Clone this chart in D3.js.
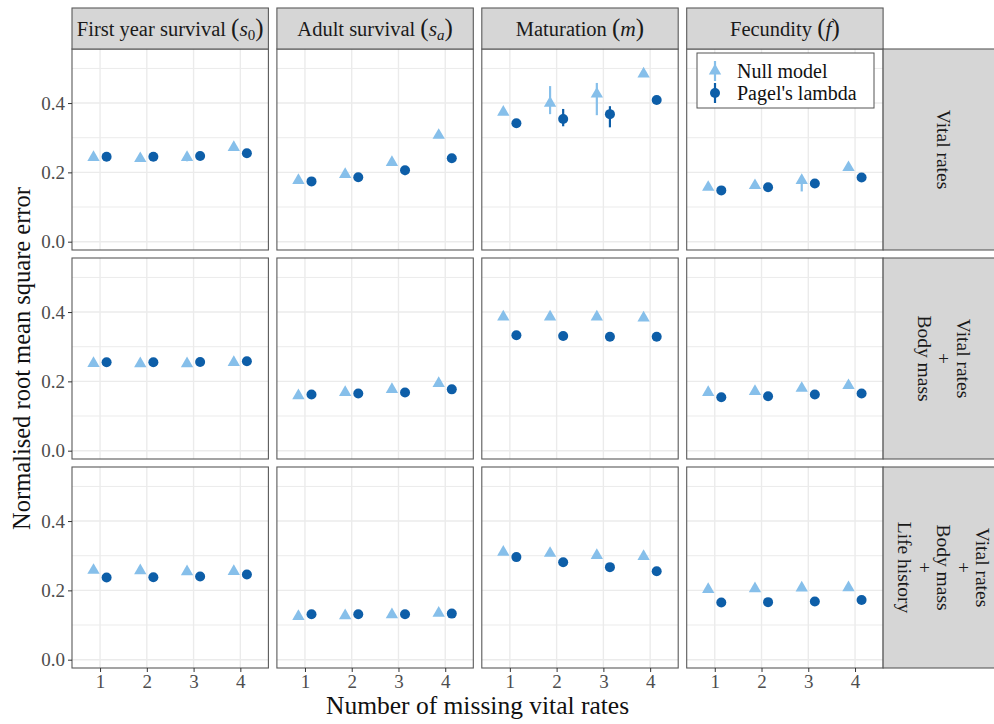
<!DOCTYPE html>
<html>
<head>
<meta charset="utf-8">
<script src="https://cdn.jsdelivr.net/npm/d3@7"></script>
<style>
  html, body { margin: 0; padding: 0; background: #fff; }
  svg { display: block; }
  text { font-family: "Liberation Serif", "DejaVu Serif", serif; }
</style>
</head>
<body>
<svg id="chart" width="994" height="724"></svg>
<script>
// ---------------- data ----------------
const colFacets = ["First year survival", "Adult survival", "Maturation", "Fecundity"];
const colSymbols = [["s", "0"], ["s", "a"], ["m", null], ["f", null]];
const rowFacets = [
  ["Vital rates"],
  ["Vital rates", "+", "Body mass"],
  ["Vital rates", "+", "Body mass", "+", "Life history"]
];
const xValues = [1, 2, 3, 4];
const yTicks = [0.0, 0.2, 0.4];
const yMinor = [0.1, 0.3, 0.5];
const seriesNames = ["Null model", "Pagel's lambda"];

// nullModel[row][col] = values at x = 1..4
const nullModel = [
  [[0.243, 0.240, 0.243, 0.272], [0.177, 0.194, 0.229, 0.307], [0.374, 0.400, 0.426, 0.484], [0.157, 0.162, 0.177, 0.214]],
  [[0.252, 0.251, 0.251, 0.255], [0.159, 0.168, 0.177, 0.194], [0.386, 0.386, 0.386, 0.383], [0.168, 0.171, 0.180, 0.188]],
  [[0.258, 0.257, 0.254, 0.255], [0.125, 0.127, 0.130, 0.134], [0.310, 0.307, 0.301, 0.298], [0.203, 0.205, 0.207, 0.208]]
];
const pagelLambda = [
  [[0.245, 0.245, 0.247, 0.255], [0.174, 0.186, 0.206, 0.241], [0.342, 0.354, 0.368, 0.409], [0.148, 0.157, 0.168, 0.185]],
  [[0.255, 0.255, 0.256, 0.258], [0.162, 0.165, 0.168, 0.177], [0.333, 0.331, 0.329, 0.329], [0.154, 0.157, 0.162, 0.165]],
  [[0.237, 0.238, 0.240, 0.246], [0.131, 0.131, 0.131, 0.133], [0.296, 0.281, 0.267, 0.255], [0.165, 0.166, 0.168, 0.172]]
];
// visible error bars: [series, row, col, x, lo, hi]
const errorBars = [
  [0, 0, 0, 3, 0.232, 0.250],
  [1, 0, 1, 3, 0.192, 0.215],
  [0, 0, 2, 2, 0.368, 0.449],
  [0, 0, 2, 3, 0.365, 0.458],
  [1, 0, 2, 2, 0.333, 0.383],
  [1, 0, 2, 3, 0.330, 0.391],
  [0, 0, 3, 3, 0.145, 0.190],
  [1, 0, 3, 3, 0.155, 0.180],
  [1, 2, 2, 2, 0.272, 0.290],
  [1, 2, 2, 3, 0.258, 0.276]
];

// ---------------- layout ----------------
const colors = ["#86bfea", "#0d5ea8"];
const dodge = [-0.14, 0.14];
const panelLeft = 72, panelW = 196.4, gapX = 8.5;
const panelTop = 49, panelH = 201, gapY = 8;
const stripTopY = 8;
const borderCol = "#5a5a5a";
const gridCol = "#ebebeb";

const svg = d3.select("#chart");

const x = d3.scaleLinear().domain([0.4, 4.6]).range([0, panelW]);
const y = d3.scaleLinear().domain([-0.024, 0.556]).range([panelH, 0]);

const triangle = d3.symbol().type(d3.symbolTriangle).size(66);

for (let r = 0; r < 3; r++) {
  for (let c = 0; c < 4; c++) {
    const px = panelLeft + c * (panelW + gapX);
    const py = panelTop + r * (panelH + gapY);
    const g = svg.append("g").attr("transform", `translate(${px},${py})`);

    g.append("rect").attr("width", panelW).attr("height", panelH).attr("fill", "#fff");

    // minor grid
    g.selectAll(".ymin").data(yMinor).join("line")
      .attr("x1", 0).attr("x2", panelW)
      .attr("y1", d => y(d)).attr("y2", d => y(d))
      .attr("stroke", gridCol).attr("stroke-width", 1);
    // major grid
    g.selectAll(".ymaj").data(yTicks).join("line")
      .attr("x1", 0).attr("x2", panelW)
      .attr("y1", d => y(d)).attr("y2", d => y(d))
      .attr("stroke", gridCol).attr("stroke-width", 1.4);
    g.selectAll(".xmaj").data(xValues).join("line")
      .attr("y1", 0).attr("y2", panelH)
      .attr("x1", d => x(d)).attr("x2", d => x(d))
      .attr("stroke", gridCol).attr("stroke-width", 1.4);

    // error bars
    errorBars.filter(e => e[1] === r && e[2] === c).forEach(e => {
      g.append("line")
        .attr("x1", x(e[3] + dodge[e[0]])).attr("x2", x(e[3] + dodge[e[0]]))
        .attr("y1", y(e[4])).attr("y2", y(e[5]))
        .attr("stroke", colors[e[0]]).attr("stroke-width", 2.2);
    });

    // null model triangles
    g.selectAll(".tri").data(nullModel[r][c]).join("path")
      .attr("d", triangle)
      .attr("transform", (d, i) => `translate(${x(xValues[i] + dodge[0])},${y(d)})`)
      .attr("fill", colors[0]);
    // pagel circles
    g.selectAll(".cir").data(pagelLambda[r][c]).join("circle")
      .attr("cx", (d, i) => x(xValues[i] + dodge[1]))
      .attr("cy", d => y(d))
      .attr("r", 5)
      .attr("fill", colors[1]);

    // border
    g.append("rect").attr("width", panelW).attr("height", panelH)
      .attr("fill", "none").attr("stroke", borderCol).attr("stroke-width", 1.1);

    // y axis on first column
    if (c === 0) {
      const ya = g.append("g").call(d3.axisLeft(y).tickValues(yTicks).tickFormat(d3.format(".1f")).tickSize(4).tickPadding(3));
      ya.attr("font-family", null);
      ya.select(".domain").remove();
      ya.selectAll("line").attr("stroke", "#333");
      ya.selectAll("text").attr("font-size", 19).attr("fill", "#4d4d4d")
        .attr("font-family", "Liberation Serif, serif");
    }
    // x axis on last row
    if (r === 2) {
      const xa = g.append("g").attr("transform", `translate(0,${panelH})`)
        .call(d3.axisBottom(x).tickValues(xValues).tickFormat(d3.format("d")).tickSize(4).tickPadding(3));
      xa.attr("font-family", null);
      xa.select(".domain").remove();
      xa.selectAll("line").attr("stroke", "#333");
      xa.selectAll("text").attr("font-size", 19).attr("fill", "#4d4d4d")
        .attr("font-family", "Liberation Serif, serif");
    }
  }
}

// top strips
for (let c = 0; c < 4; c++) {
  const px = panelLeft + c * (panelW + gapX);
  const g = svg.append("g").attr("transform", `translate(${px},${stripTopY})`);
  g.append("rect").attr("width", panelW).attr("height", panelTop - stripTopY)
    .attr("fill", "#d6d6d6").attr("stroke", borderCol).attr("stroke-width", 1.1);
  const t = g.append("text")
    .attr("x", panelW / 2).attr("y", (panelTop - stripTopY) / 2 + 7)
    .attr("text-anchor", "middle").attr("font-size", 20.5).attr("fill", "#1a1a1a");
  t.append("tspan").text(colFacets[c] + " ");
  t.append("tspan").attr("font-size", 25).text("(");
  t.append("tspan").attr("font-style", "italic").attr("font-size", 21.5).text(colSymbols[c][0]);
  if (colSymbols[c][1]) {
    t.append("tspan").attr("font-size", 15).attr("dy", 4)
      .attr("font-style", /[a-z]/.test(colSymbols[c][1]) ? "italic" : "normal")
      .text(colSymbols[c][1]);
    t.append("tspan").attr("font-size", 25).attr("dy", -4).text(")");
  } else {
    t.append("tspan").attr("font-size", 25).text(")");
  }
}

// right strips
const stripRightX = panelLeft + 4 * (panelW + gapX) - gapX;
for (let r = 0; r < 3; r++) {
  const py = panelTop + r * (panelH + gapY);
  const g = svg.append("g").attr("transform", `translate(${stripRightX},${py})`);
  g.append("rect").attr("width", 130).attr("height", panelH)
    .attr("fill", "#d6d6d6").attr("stroke", borderCol).attr("stroke-width", 1.1);
  const lines = rowFacets[r];
  const lh = 19.5;
  const cx = 60;
  const tg = g.append("g").attr("transform", `translate(${cx},${panelH / 2}) rotate(90)`);
  lines.forEach((ln, i) => {
    tg.append("text")
      .attr("x", 0)
      .attr("y", (i - (lines.length - 1) / 2) * lh + 6)
      .attr("text-anchor", "middle")
      .attr("font-size", 19.5).attr("fill", "#1a1a1a")
      .text(ln);
  });
}

// legend
const lg = svg.append("g").attr("transform", "translate(697,53)");
lg.append("rect").attr("width", 177).attr("height", 55)
  .attr("fill", "#fff").attr("stroke", "#555").attr("stroke-width", 1);
seriesNames.forEach((name, i) => {
  const cy = 18 + i * 22;
  lg.append("line").attr("x1", 18).attr("x2", 18).attr("y1", cy - 10).attr("y2", cy + 10)
    .attr("stroke", colors[i]).attr("stroke-width", 2.2);
  if (i === 0) {
    lg.append("path").attr("d", triangle).attr("transform", `translate(18,${cy})`).attr("fill", colors[0]);
  } else {
    lg.append("circle").attr("cx", 18).attr("cy", cy).attr("r", 5).attr("fill", colors[1]);
  }
  lg.append("text").attr("x", 40).attr("y", cy + 7)
    .attr("font-size", 20).attr("fill", "#111").text(name);
});

// axis titles
svg.append("text")
  .attr("x", (panelLeft + stripRightX) / 2).attr("y", 714)
  .attr("text-anchor", "middle").attr("font-size", 25.5).attr("fill", "#111")
  .text("Number of missing vital rates");
svg.append("text")
  .attr("transform", `translate(30,${panelTop + (3 * panelH + 2 * gapY) / 2}) rotate(-90)`)
  .attr("text-anchor", "middle").attr("font-size", 24.5).attr("fill", "#111")
  .text("Normalised root mean square error");
</script>
</body>
</html>
